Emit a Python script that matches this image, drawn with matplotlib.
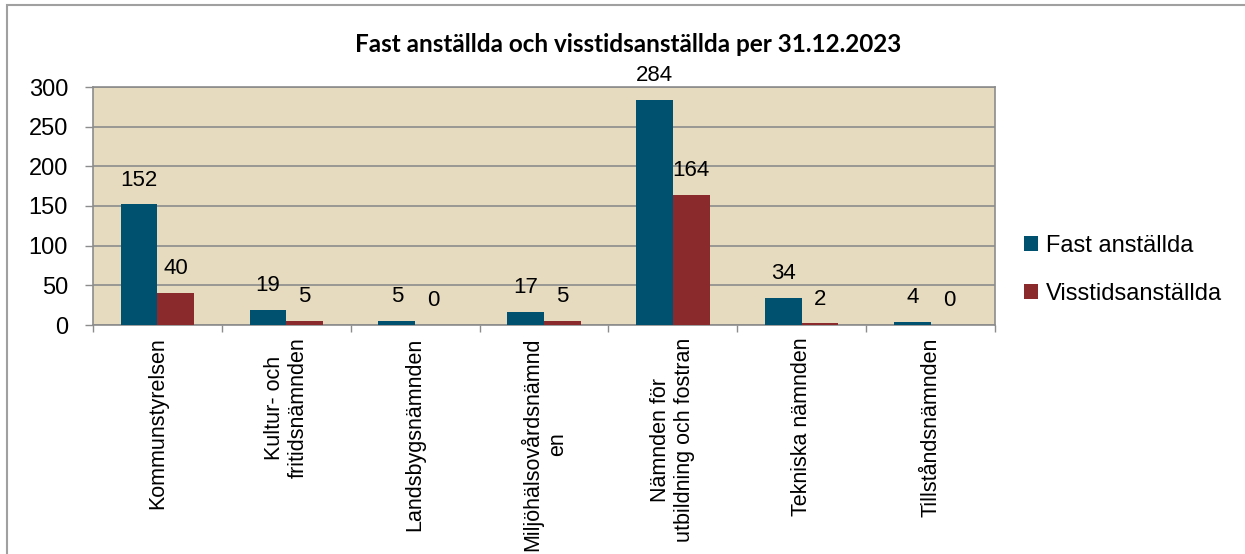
import numpy as np
import matplotlib
matplotlib.use('Agg')
import matplotlib.pyplot as plt
from matplotlib.patches import Rectangle

categories = ["Kommunstyrelsen", "Kultur- och\nfritidsnämnden", "Landsbygsnämnden",
              "Miljöhälsovårdsnämnd\nen", "Nämnden för\nutbildning och fostran",
              "Tekniska nämnden", "Tillståndsnämnden"]
fast = [152, 19, 5, 17, 284, 34, 4]
visstid = [40, 5, 0, 5, 164, 2, 0]
series_names = ["Fast anställda", "Visstidsanställda"]

blue = '#00506F'
red = '#8B2A2C'
bg = '#E6DBBE'
grid = '#8C8C8C'

plt.rcParams['font.family'] = ['Liberation Sans', 'DejaVu Sans']

fig = plt.figure(figsize=(12.45, 5.54), dpi=100)
# outer chart border
fig.add_artist(Rectangle((7/1245, -0.1), 1.2, 1 - 5/554 + 0.1, transform=fig.transFigure,
                         fill=False, edgecolor='#A0A0A0', linewidth=1.5))

ax = fig.add_axes([93/1245, 1 - 325/554, (995 - 93)/1245, (325 - 87)/554])
ax.set_facecolor(bg)

x = np.arange(len(categories))
w = 0.285
b1 = ax.bar(x - w/2, fast, w, color=blue, label=series_names[0], zorder=3)
b2 = ax.bar(x + w/2, visstid, w, color=red, label=series_names[1], zorder=3)

for bars, vals in ((b1, fast), (b2, visstid)):
    for r, v in zip(bars, vals):
        ax.annotate(str(v), (r.get_x() + r.get_width()/2, v), xytext=(0, 10),
                    textcoords='offset points', ha='center', va='bottom',
                    fontsize=16, clip_on=False, annotation_clip=False)

ax.set_xlim(-0.5, len(categories) - 0.5)
ax.set_ylim(0, 300)
ax.set_yticks(range(0, 301, 50))
ax.yaxis.grid(True, color=grid, linewidth=1.2, zorder=0)
ax.set_axisbelow(True)
ax.tick_params(axis='y', labelsize=17, length=6, width=1, color=grid, pad=12)

ax.set_xticks(np.arange(-0.5, len(categories), 1.0))
ax.set_xticklabels([])
ax.tick_params(axis='x', length=5, width=1, color=grid)
ax.set_xticks(x, minor=True)
ax.set_xticklabels(categories, minor=True, rotation=90, fontsize=15.5,
                   multialignment='center')
ax.tick_params(axis='x', which='minor', length=0, pad=9)

for s in ax.spines.values():
    s.set_color(grid)
    s.set_linewidth(1.2)

fig.text(628/1245, 1 - 45/554, "Fast anställda och visstidsanställda per 31.12.2023",
         ha='center', va='center', fontsize=17.5, fontweight='bold',
         family=['Lato', 'DejaVu Sans'])

ax.legend(loc='center left', bbox_to_anchor=(1.022, 0.233), frameon=False,
          fontsize=17, handlelength=0.6, handleheight=0.6, handletextpad=0.3,
          labelspacing=1.1, borderaxespad=0)

fig.savefig('out.png', dpi=100, facecolor='white')
